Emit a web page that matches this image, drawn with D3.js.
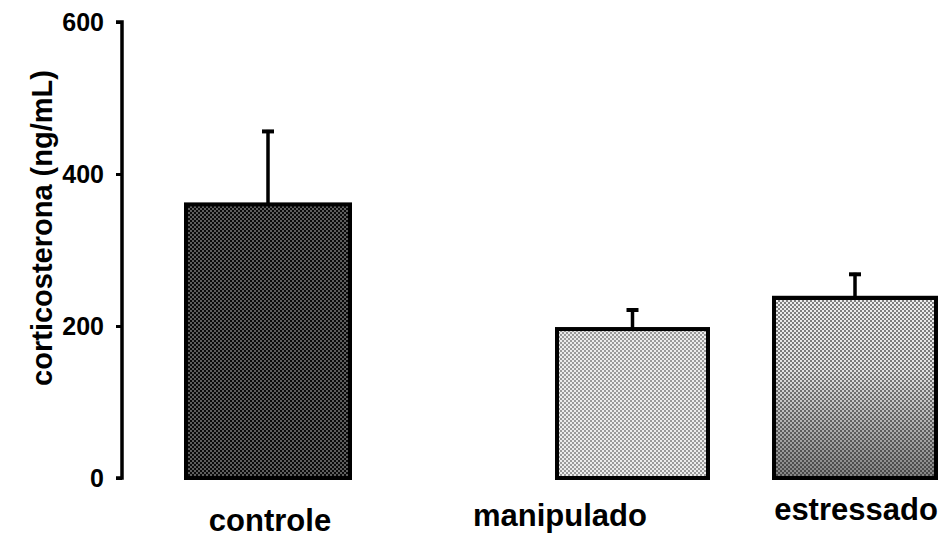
<!DOCTYPE html>
<html><head><meta charset="utf-8">
<script src="https://cdn.jsdelivr.net/npm/d3@7"></script>
<style>body{margin:0;background:#fff}svg{display:block}</style>
</head><body>
<script>
const categories = ["controle", "manipulado", "estressado"];
const means = [360, 196, 237];
const errors = [98, 27, 33];
const yTicks = [0, 200, 400, 600];

const W = 942, H = 542;
const FONT = "Liberation Sans, Arial, sans-serif";
const svg = d3.select("body").append("svg").attr("width", W).attr("height", H);
const defs = svg.append("defs");

function dotPattern(id, bg, dot) {
  const p = defs.append("pattern").attr("id", id).attr("patternUnits", "userSpaceOnUse")
    .attr("width", 4).attr("height", 4);
  p.append("rect").attr("width", 4).attr("height", 4).attr("fill", bg);
  p.append("rect").attr("x", 0).attr("y", 0).attr("width", 2).attr("height", 2).attr("fill", dot);
  p.append("rect").attr("x", 2).attr("y", 2).attr("width", 2).attr("height", 2).attr("fill", dot);
}
dotPattern("patDark", "#0a0a0a", "#5e5e5e");
dotPattern("patLight", "#9a9a9a", "#ececec");
dotPattern("patG", "#808080", "#eee");
const lg = defs.append("linearGradient").attr("id", "gr").attr("x1", 0).attr("y1", 0).attr("x2", 0).attr("y2", 1);
lg.append("stop").attr("offset", "0%").attr("stop-color", "#000").attr("stop-opacity", 0.0);
lg.append("stop").attr("offset", "40%").attr("stop-color", "#000").attr("stop-opacity", 0.05);
lg.append("stop").attr("offset", "100%").attr("stop-color", "#000").attr("stop-opacity", 0.45);
const fills = ["url(#patDark)", "url(#patLight)", "url(#patG)"];

const y = d3.scaleLinear().domain([0, 600]).range([478, 22]);
// bar edges as ordinal scales (uneven spacing in the original figure)
const xLeft = d3.scaleOrdinal().domain(categories).range([186, 557, 774]);
const xRight = d3.scaleOrdinal().domain(categories).range([350, 708, 936]);
const xLabel = d3.scaleOrdinal().domain(categories).range([270, 560, 856]);
const yLabel = d3.scaleOrdinal().domain(categories).range([531, 526, 520]);

// y axis
const ax = svg.append("g").attr("transform", "translate(122,0)")
  .call(d3.axisLeft(y).tickValues(yTicks).tickSize(6).tickPadding(12));
ax.select(".domain").attr("stroke", "#000").attr("stroke-width", 3.5).attr("d", "M-6,22H0V478H-6");
ax.selectAll(".tick line").attr("stroke", "#000").attr("stroke-width", 3);
ax.selectAll(".tick text").attr("font-family", FONT)
  .attr("font-weight", "bold").attr("font-size", 25).attr("fill", "#000");

svg.append("text").attr("transform", "translate(52,228) rotate(-90)")
  .attr("text-anchor", "middle").attr("font-family", FONT)
  .attr("font-weight", "bold").attr("font-size", 29).text("corticosterona (ng/mL)");

// error bars
const eg = svg.append("g");
categories.forEach((c, i) => {
  const cx = (xLeft(c) + xRight(c)) / 2;
  eg.append("line").attr("x1", cx).attr("x2", cx).attr("y1", y(means[i])).attr("y2", y(means[i] + errors[i]))
    .attr("stroke", "#000").attr("stroke-width", 3.5);
  eg.append("line").attr("x1", cx - 6).attr("x2", cx + 6).attr("y1", y(means[i] + errors[i]) + 1.5).attr("y2", y(means[i] + errors[i]) + 1.5)
    .attr("stroke", "#000").attr("stroke-width", 4);
});

// bars
const bg = svg.append("g");
categories.forEach((c, i) => {
  const bx = xLeft(c), bw = xRight(c) - xLeft(c);
  bg.append("rect").attr("x", bx).attr("y", y(means[i])).attr("width", bw)
    .attr("height", y(0) - y(means[i])).attr("fill", fills[i]).attr("stroke", "#000").attr("stroke-width", 4);
  if (i === 2) {
    bg.append("rect").attr("x", bx).attr("y", y(means[i])).attr("width", bw)
      .attr("height", y(0) - y(means[i])).attr("fill", "url(#gr)").attr("stroke", "#000").attr("stroke-width", 4);
  }
});

// category labels
svg.append("g").selectAll("text").data(categories).join("text")
  .attr("x", d => xLabel(d)).attr("y", d => yLabel(d))
  .attr("text-anchor", "middle").attr("font-family", FONT)
  .attr("font-weight", "bold").attr("font-size", 31).text(d => d);
</script>
</body></html>
